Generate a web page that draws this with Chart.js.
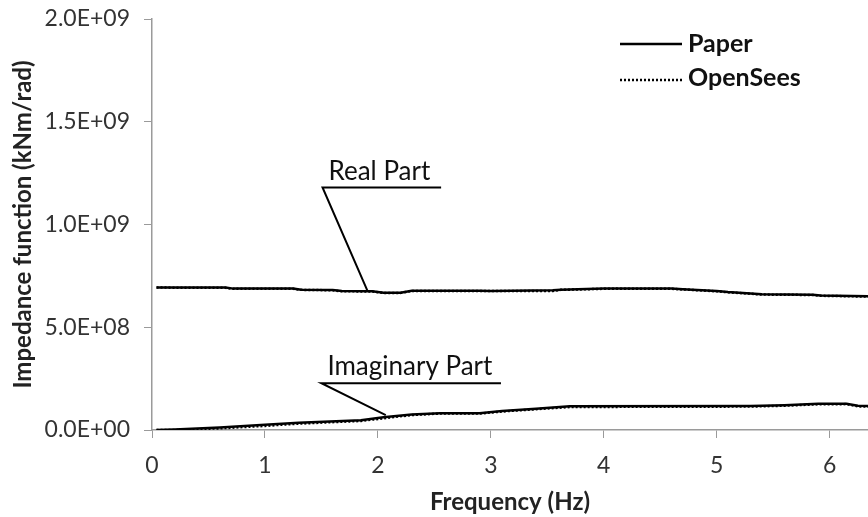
<!DOCTYPE html>
<html>
<head>
<meta charset="utf-8">
<script src="https://cdn.jsdelivr.net/npm/chart.js@4.4.0/dist/chart.umd.min.js"></script>
<style>
  html, body { margin: 0; padding: 0; background: #fff; }
</style>
</head>
<body>
<canvas id="impChart" width="868" height="517"></canvas>
<script>
// frequencies (Hz) and impedance values (kNm/rad)
const realFreq = [0.04, 0.65, 0.72, 1.25, 1.32, 1.6, 1.68, 1.95, 2.05, 2.2, 2.3, 2.9, 3.0, 3.55, 3.62, 4.0, 4.1, 4.6, 4.7, 5.0, 5.1, 5.3, 5.4, 5.85, 5.92, 6.37];
const paperReal = [693e6, 693e6, 688e6, 688e6, 683e6, 681e6, 676e6, 675e6, 668e6, 668e6, 678e6, 678e6, 677e6, 680e6, 683e6, 688e6, 688e6, 688e6, 685e6, 676e6, 671e6, 664e6, 660e6, 658e6, 654e6, 650e6];
const openSeesReal = [693e6, 692e6, 687e6, 687e6, 682e6, 680e6, 675e6, 674e6, 667e6, 667e6, 677e6, 677e6, 676e6, 677e6, 682e6, 687e6, 688e6, 687e6, 684e6, 675e6, 670e6, 663e6, 659e6, 657e6, 653e6, 649e6];

const imagFreq = [0.04, 0.2, 0.6, 1.0, 1.3, 1.85, 2.05, 2.3, 2.55, 2.9, 3.1, 3.4, 3.7, 5.3, 5.6, 5.9, 6.15, 6.25, 6.37];
const paperImag = [0, 3e6, 12e6, 25e6, 35e6, 48e6, 62e6, 76e6, 81e6, 82e6, 93e6, 104e6, 115e6, 117e6, 121e6, 128e6, 128e6, 118e6, 116e6];
const openSeesImag = [0, 0, 8e6, 20e6, 31e6, 44e6, 57e6, 73e6, 80e6, 80e6, 90e6, 101e6, 112e6, 114e6, 118e6, 125e6, 126e6, 115e6, 114e6];

const xTicks = [0, 1, 2, 3, 4, 5, 6];
const yTicks = [0, 5e8, 1e9, 1.5e9, 2e9];

const seriesNames = ['Paper', 'OpenSees'];

const FONT = 'Lato, "Open Sans", sans-serif';
const AXIS_GREY = '#9a9a9a';

function pts(xs, ys) {
    return xs.map((v, i) => ({ x: v, y: ys[i] }));
}

// 2.0E+09 style labels
function sciLabel(v) {
    if (v === 0) return '0.0E+00';
    const exp = Math.floor(Math.log10(Math.abs(v)));
    const mant = v / Math.pow(10, exp);
    return mant.toFixed(1) + 'E+' + String(exp).padStart(2, '0');
}

// text + leader lines, in data coordinates
const callouts = [
    { text: 'Real Part', x0: 1.51, x1: 2.56, level: 1.18e9, tipX: 1.91, tipY: 675e6 },
    { text: 'Imaginary Part', x0: 1.5, x1: 3.09, level: 2.28e8, tipX: 2.07, tipY: 72e6 }
];

const calloutPlugin = {
    id: 'callouts',
    afterDatasetsDraw(chart) {
        const ctx = chart.ctx;
        const xs = chart.scales.x, ys = chart.scales.y;
        ctx.save();
        ctx.strokeStyle = '#000';
        ctx.fillStyle = '#111';
        ctx.lineWidth = 2;
        callouts.forEach(c => {
            const px0 = xs.getPixelForValue(c.x0);
            const px1 = xs.getPixelForValue(c.x1);
            const py = ys.getPixelForValue(c.level);
            ctx.beginPath();
            ctx.moveTo(px1, py);
            ctx.lineTo(px0, py);
            ctx.lineTo(xs.getPixelForValue(c.tipX), ys.getPixelForValue(c.tipY));
            ctx.stroke();
            ctx.font = '26px ' + FONT;
            ctx.textBaseline = 'alphabetic';
            ctx.textAlign = 'left';
            ctx.fillText(c.text, px0 + 6, py - 8);
        });

        // legend, top right
        const lx = 620;
        const rows = [44, 80];
        ctx.lineWidth = 2.5;
        ctx.font = 'bold 25px ' + FONT;
        ctx.textBaseline = 'middle';
        seriesNames.forEach((name, i) => {
            ctx.setLineDash(i === 0 ? [] : [2, 2]);
            ctx.beginPath();
            ctx.moveTo(lx, rows[i]);
            ctx.lineTo(lx + 62, rows[i]);
            ctx.stroke();
            ctx.fillText(name, lx + 68, rows[i] - (i === 0 ? 0 : 2));
        });
        ctx.restore();
    }
};

const ctx = document.getElementById('impChart').getContext('2d');

new Chart(ctx, {
    type: 'scatter',
    data: {
        datasets: [
            { label: 'OpenSees', data: pts(realFreq, openSeesReal), borderColor: '#000', borderWidth: 2.5, borderDash: [2, 2] },
            { label: 'OpenSees', data: pts(imagFreq, openSeesImag), borderColor: '#000', borderWidth: 2.5, borderDash: [2, 2] },
            { label: 'Paper', data: pts(realFreq, paperReal), borderColor: '#000', borderWidth: 2.5 },
            { label: 'Paper', data: pts(imagFreq, paperImag), borderColor: '#000', borderWidth: 2.5 }
        ].map(d => Object.assign(d, { showLine: true, pointRadius: 0, tension: 0, fill: false }))
    },
    options: {
        responsive: false,
        animation: false,
        layout: { padding: { top: 19, right: 0, left: 0, bottom: 0 } },
        plugins: { legend: { display: false }, tooltip: { enabled: false } },
        scales: {
            x: {
                type: 'linear',
                min: 0,
                max: 6.34,
                afterBuildTicks: s => { s.ticks = xTicks.map(v => ({ value: v })); },
                afterFit: s => { s.height = 87; s.paddingLeft = 0; s.paddingRight = 0; },
                grid: { drawOnChartArea: false, color: AXIS_GREY, tickLength: 8 },
                border: { color: AXIS_GREY, width: 1.5 },
                ticks: { color: '#333', font: { family: FONT, size: 23 }, padding: 14, maxRotation: 0 },
                title: { display: true, text: 'Frequency (Hz)', color: '#222', font: { family: FONT, size: 24, weight: 'bold' }, padding: { top: 0, bottom: 0 } }
            },
            y: {
                min: 0,
                max: 2e9,
                afterBuildTicks: s => { s.ticks = yTicks.map(v => ({ value: v })); },
                afterFit: s => { s.width = 152; s.paddingTop = 0; s.paddingBottom = 0; },
                grid: { drawOnChartArea: false, color: AXIS_GREY, tickLength: 8 },
                border: { color: AXIS_GREY, width: 1.5 },
                ticks: { color: '#333', font: { family: FONT, size: 23 }, padding: 14, callback: v => sciLabel(v) },
                title: { display: true, text: 'Impedance function (kNm/rad)', color: '#222', font: { family: FONT, size: 24, weight: 'bold' }, padding: { top: 9, bottom: 0 } }
            }
        }
    },
    plugins: [calloutPlugin]
});
</script>
</body>
</html>
